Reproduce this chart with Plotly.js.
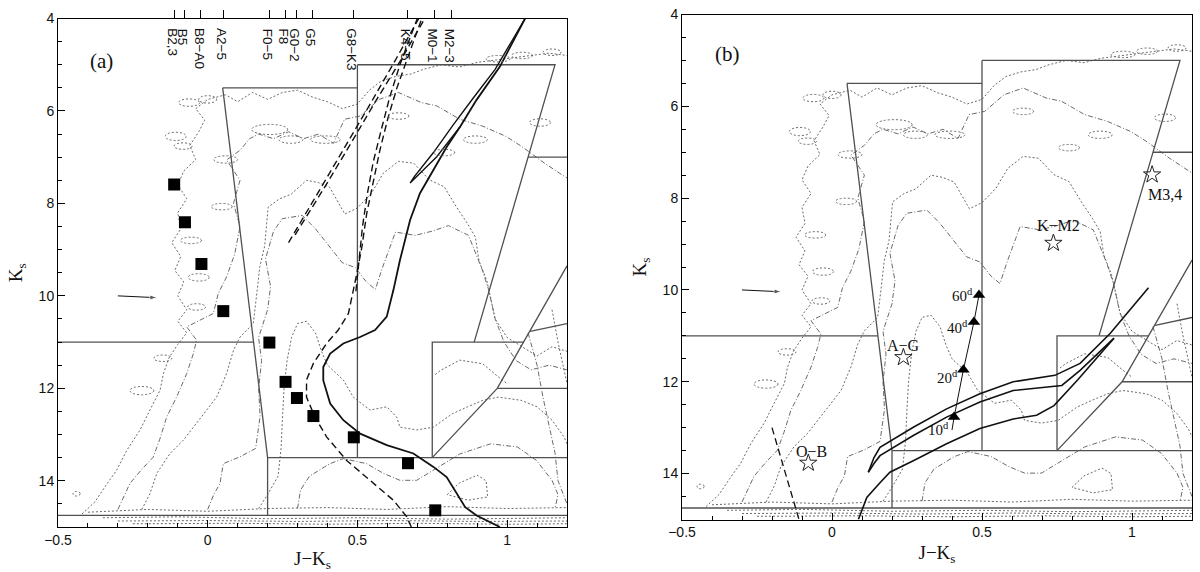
<!DOCTYPE html>
<html><head><meta charset="utf-8">
<script src="https://cdn.plot.ly/plotly-3.0.1.min.js"></script>
<style>html,body{margin:0;padding:0;background:#fff}#chart{width:1200px;height:572px}</style>
</head><body><div id="chart"></div>
<script>
// ---------- data ----------
const spectralTypes = ['B2,3','B5','B8−A0','A2−5','F0−5','F8','G0−2','G5','G8−K3','K4−5','M0−1','M2−3'];
const spectralColor = [-0.112,-0.079,-0.023,0.052,0.205,0.261,0.297,0.349,0.486,0.668,0.759,0.815];

const squareColor = [-0.112,-0.076,-0.021,0.052,0.206,0.26,0.298,0.353,0.488,0.669,0.76];
const squareKs    = [7.59,8.41,9.31,10.33,11.01,11.86,12.21,12.6,13.06,13.62,14.64];

const curveA = [[0.976,15.0],[0.898,14.75],[0.86,14.57],[0.832,14.28],[0.798,13.92],[0.754,13.7],[0.687,13.41],[0.598,13.23],[0.509,12.98],[0.453,12.69],[0.409,12.33],[0.386,11.83],[0.386,11.54],[0.409,11.25],[0.453,11.03],[0.509,10.89],[0.559,10.74],[0.598,10.45],[0.62,9.88],[0.642,9.23],[0.676,8.36],[0.709,7.78],[0.754,7.28],[0.798,6.78],[0.843,6.34],[0.898,5.76],[0.976,5.04],[1.06,4.0]];
const needleA = [[0.843,6.34],[0.765,6.99],[0.676,7.56],[0.69,7.42],[0.754,6.9],[0.82,6.3],[0.887,5.72],[0.96,5.1],[1.06,4.0]];
const dashA1 = [[0.68,15.0],[0.665,14.78],[0.62,14.42],[0.542,13.99],[0.464,13.56],[0.397,13.05],[0.358,12.62],[0.33,12.19],[0.33,11.82],[0.353,11.46],[0.397,11.03],[0.436,10.74],[0.47,10.38],[0.498,9.52],[0.515,8.94],[0.531,8.22],[0.553,7.5],[0.575,6.85],[0.603,6.13],[0.633,5.48],[0.665,4.9],[0.715,4.0]];
const dashA2 = [[0.495,9.9],[0.505,9.2],[0.517,8.5],[0.533,7.8],[0.553,7.1],[0.58,6.4],[0.608,5.7],[0.642,5.0],[0.70,4.0]];
const dashB1 = [[0.27,8.85],[0.381,7.64],[0.46,6.75],[0.54,5.88],[0.625,4.92],[0.705,4.0]];
const dashB2 = [[0.292,8.68],[0.40,7.55],[0.48,6.68],[0.56,5.8],[0.645,4.9],[0.725,4.0]];

const isoUpper  = [[0.121,13.97],[0.14,13.65],[0.16,13.43],[0.193,13.3],[0.271,12.99],[0.382,12.59],[0.493,12.26],[0.604,12.0],[0.743,11.86],[0.827,11.6],[0.927,10.95],[1.055,9.95]];
const isoMiddle = [[0.121,13.97],[0.14,13.78],[0.16,13.61],[0.271,13.17],[0.382,12.77],[0.493,12.44],[0.604,12.19],[0.766,12.08],[0.827,11.75],[0.94,11.05]];
const isoLower  = [[0.088,15.0],[0.116,14.52],[0.16,14.2],[0.193,13.97],[0.271,13.72],[0.382,13.35],[0.493,13.02],[0.604,12.81],[0.682,12.73],[0.74,12.52],[0.82,11.95],[0.94,11.05]];
const dashPanelB = [[-0.2,13.0],[-0.11,15.0]];

const ageColor = [0.407,0.438,0.473,0.49];
const ageKs    = [12.77,11.74,10.7,10.11];
const ageLabelKs = [13.02,11.9,10.81,10.11];
const ageLabels = ['10<sup>d</sup>','20<sup>d</sup>','40<sup>d</sup>','60<sup>d</sup>'];
const ageTrack = [[0.40,13.05],[0.407,12.77],[0.438,11.74],[0.473,10.7],[0.49,10.11]];

const starNames = ['O−B','A−G','K−M2','M3,4'];
const starColor = [-0.079,0.238,0.738,1.067];
const starKs    = [13.77,11.47,8.98,7.49];
const starLabelColor = [-0.068,0.238,0.754,1.11];
const starLabelKs    = [13.51,11.2,8.59,7.93];

// reddening arrow (tail, head)
const reddeningArrow = [[-0.30,10.0],[-0.168,10.04]];

// region boundaries (both panels)
const boxLines = [
  [[0.05,5.5],[0.5,5.5]],
  [[0.05,5.5],[0.2,13.5],[0.2,14.75]],
  [[-0.5,11.0],[0.153,11.0]],
  [[0.5,5.0],[0.5,13.5]],
  [[0.5,5.0],[1.16,5.0],[0.89,11.0]],
  [[1.07,7.0],[1.2,7.0]],
  [[0.2,13.5],[1.2,13.5]],
  [[0.75,13.5],[0.75,11.0],[1.055,11.0]],
  [[0.75,13.5],[0.967,12.0],[1.2,9.35]],
  [[0.967,12.0],[1.2,12.0]],
  [[1.077,10.77],[1.2,10.6]],
  [[-0.5,14.75],[1.2,14.75]]
];

// density contours (both panels)
const cLev1 = [[-0.42,14.72],[-0.377,14.46],[-0.34,14.1],[-0.304,13.77],[-0.27,13.34],[-0.226,12.9],[-0.193,12.47],[-0.159,12.04],[-0.148,11.68],[-0.13,11.35],[-0.1,11.05],[-0.07,10.8],[-0.1,10.55],[-0.07,10.3],[-0.1,10.0],[-0.08,9.7],[-0.11,9.45],[-0.09,9.15],[-0.12,8.85],[-0.09,8.55],[-0.1,8.2],[-0.07,7.9],[-0.1,7.6],[-0.08,7.3],[-0.04,7.05],[-0.06,6.75],[-0.03,6.45],[-0.01,6.2],[-0.04,5.95],[0.0,5.75],[0.06,5.65],[0.1,5.8],[0.15,5.6],[0.2,5.75],[0.25,5.6],[0.3,5.55],[0.35,5.7],[0.4,5.8],[0.45,5.95],[0.5,5.85],[0.54,5.55],[0.58,5.35],[0.63,5.25],[0.68,5.2],[0.72,5.1],[0.78,5.0],[0.84,5.05],[0.9,4.95],[0.96,4.9],[1.02,4.85],[1.08,4.8],[1.14,4.75],[1.2,4.8]];
const cLev2 = [[-0.30,14.62],[-0.26,14.06],[-0.22,13.75],[-0.182,13.49],[-0.16,13.1],[-0.137,12.62],[-0.104,12.19],[-0.07,11.68],[-0.048,11.25],[-0.037,10.96],[-0.07,10.67],[0.019,10.38],[0.035,9.95],[0.063,9.59],[0.09,9.1],[0.108,8.5],[0.086,8.0],[0.108,7.5],[0.063,7.06],[0.108,6.85],[0.14,6.6],[0.17,6.5],[0.22,6.6],[0.27,6.45],[0.32,6.6],[0.37,6.5],[0.42,6.7],[0.457,6.18],[0.509,6.11],[0.573,5.75],[0.637,5.6],[0.714,5.82],[0.765,5.89],[0.842,6.18],[0.919,6.33],[0.996,6.55],[1.047,6.76],[1.125,7.13],[1.176,7.35],[1.2,7.45]];
const cLev3 = [[-0.22,14.62],[-0.193,14.28],[-0.17,13.84],[-0.126,13.41],[-0.081,13.12],[-0.048,12.84],[-0.003,12.47],[0.03,12.19],[0.063,11.68],[0.086,11.18],[0.108,10.89],[0.152,10.6],[0.164,9.95],[0.174,9.37],[0.19,8.93],[0.202,8.08],[0.24,7.9],[0.279,7.8],[0.33,7.5],[0.37,7.55],[0.407,7.65],[0.458,8.23],[0.5,8.1],[0.547,7.78],[0.586,7.35],[0.637,7.09],[0.688,7.13],[0.74,7.49],[0.79,7.64],[0.83,8.07],[0.868,8.44],[0.894,8.73],[0.906,9.24],[0.932,9.67],[0.945,10.04],[0.96,10.5],[1.0,10.9],[1.05,11.1],[1.1,11.3],[1.15,11.1],[1.2,11.2]];
const cLev4 = [[0.0,14.62],[0.02,14.3],[0.041,14.06],[0.052,13.63],[0.108,13.48],[0.16,13.3],[0.175,12.6],[0.17,12.0],[0.18,11.4],[0.17,10.9],[0.2,10.3],[0.21,9.8],[0.193,9.2],[0.22,8.6],[0.249,8.33],[0.316,8.26],[0.36,8.55],[0.404,8.91],[0.449,9.28],[0.493,9.39],[0.53,9.7],[0.56,9.86],[0.582,9.42],[0.627,8.62],[0.693,8.69],[0.75,8.6],[0.804,8.48],[0.871,8.69],[0.916,9.42],[0.938,9.86],[0.96,10.5],[0.99,11.0],[1.03,11.4],[1.08,11.6],[1.14,11.5],[1.2,11.6]];
const cLev5 = [[0.17,14.6],[0.2,14.3],[0.235,13.9],[0.245,13.3],[0.25,12.6],[0.255,12.0],[0.265,11.4],[0.28,10.9],[0.30,10.6],[0.33,10.55],[0.36,10.8],[0.38,11.2],[0.4,11.5],[0.453,11.82],[0.486,12.19],[0.542,12.47],[0.598,12.4],[0.631,12.62],[0.642,12.84],[0.698,12.9],[0.754,12.84],[0.817,12.55],[0.868,12.4],[0.919,12.26],[0.97,12.19],[1.047,12.26],[1.1,12.4],[1.15,12.69],[1.19,13.05],[1.2,13.2]];
const cLev6 = [[0.30,14.6],[0.31,14.2],[0.34,13.9],[0.408,13.63],[0.453,13.52],[0.531,13.63],[0.587,13.84],[0.642,13.99],[0.698,13.99],[0.754,13.77],[0.842,13.42],[0.945,13.2],[1.035,13.27],[1.098,13.56],[1.15,13.99],[1.17,14.3],[1.16,14.6]];
const cLoop = [[0.8,14.3],[0.84,14.05],[0.9,13.88],[0.93,14.0],[0.935,14.35],[0.87,14.42],[0.8,14.3]];
const cBox = [[0.76,11.7],[0.778,11.61],[0.842,11.39],[0.919,11.47],[0.97,11.75],[1.0,11.9]];
const cRight1 = [[1.07,10.8],[1.1,11.5],[1.12,12.2],[1.14,12.8],[1.16,13.4],[1.17,14.0],[1.2,14.5]];
const cRight2 = [[1.15,10.3],[1.17,11.0],[1.19,11.6],[1.2,11.9]];
const cBottom1 = [[-0.40,14.68],[-0.2,14.62],[0.0,14.66],[0.2,14.6],[0.4,14.58],[0.6,14.62],[0.8,14.56],[1.0,14.6],[1.2,14.58]];
const cBottom2 = [[-0.35,14.8],[-0.1,14.78],[0.2,14.82],[0.5,14.8],[0.8,14.83],[1.2,14.8]];
const cBottom3 = [[-0.3,14.87],[0.0,14.86],[0.3,14.88],[0.6,14.86],[0.9,14.88],[1.2,14.87]];
const cBottom4 = [[-0.25,14.93],[0.1,14.92],[0.4,14.94],[0.7,14.92],[1.0,14.94],[1.2,14.93]];

// small closed contours: [centre colour, centre Ks, half-width, half-height]
const islands = [[-0.062,5.82,0.035,0.08],[0.0,5.75,0.03,0.08],[-0.107,6.55,0.035,0.09],[0.207,6.4,0.06,0.11],[0.278,6.62,0.04,0.08],[0.393,6.62,0.05,0.08],[0.637,6.11,0.035,0.07],[0.79,6.9,0.035,0.07],[0.894,6.62,0.04,0.08],[0.97,4.87,0.04,0.07],[1.05,4.8,0.035,0.07],[1.11,6.25,0.035,0.08],[1.15,4.73,0.03,0.07],[-0.082,6.76,0.03,0.07],[0.06,7.05,0.04,0.08],[0.047,8.07,0.035,0.07],[-0.056,8.8,0.035,0.07],[-0.03,9.6,0.035,0.08],[-0.037,10.24,0.03,0.07],[-0.22,12.05,0.04,0.09],[-0.15,11.35,0.03,0.07],[-0.438,14.28,0.012,0.05]];

// ---------- drawing ----------
const traces = [];
const shapes = [];
const axes = [['x','y'],['x2','y2']];
function line(pts, p, style){
  traces.push({type:'scatter',mode:'lines',x:pts.map(d=>d[0]),y:pts.map(d=>d[1]),
    xaxis:axes[p][0],yaxis:axes[p][1],line:style,hoverinfo:'skip',showlegend:false});
}
const cGrey = '#6a6a6a';
const dotStyle = {color:cGrey,width:1,dash:'2px,2px'};
const dashDotStyle = {color:cGrey,width:1,dash:'5px,2px,1px,2px'};
const boxStyle = {color:'#505050',width:1.3};
const contourSet = [[cLev1,dotStyle],[cLev2,dashDotStyle],[cLev3,dotStyle],[cLev4,dashDotStyle],[cLev5,dotStyle],[cLev6,dashDotStyle],[cLoop,dotStyle],[cBox,dotStyle],[cRight1,dashDotStyle],[cRight2,dotStyle],[cBottom1,dotStyle],[cBottom2,dotStyle],[cBottom3,dotStyle],[cBottom4,dotStyle]];

for (let p=0;p<2;p++){
  contourSet.forEach(c=>line(c[0],p,c[1]));
  islands.forEach(e=>shapes.push({type:'circle',xref:axes[p][0],yref:axes[p][1],
    x0:e[0]-e[2],x1:e[0]+e[2],y0:e[1]-e[3],y1:e[1]+e[3],line:{color:cGrey,width:1,dash:'2px,2px'}}));
  boxLines.forEach(b=>line(b,p,boxStyle));
  traces.push({type:'scatter',mode:'lines+markers',x:reddeningArrow.map(d=>d[0]),y:reddeningArrow.map(d=>d[1]),
    xaxis:axes[p][0],yaxis:axes[p][1],line:{color:'#111',width:1},
    marker:{symbol:['circle','arrow'],size:[0,8],angleref:'previous',color:'#111'},hoverinfo:'skip',showlegend:false});
}
// panel a
line(curveA,0,{color:'#111',width:1.8});
line(needleA,0,{color:'#111',width:1.4});
[dashA1,dashA2,dashB1,dashB2].forEach(d=>line(d,0,{color:'#111',width:1.4,dash:'7px,4px'}));
traces.push({type:'scatter',mode:'markers',x:squareColor,y:squareKs,xaxis:'x',yaxis:'y',
  marker:{symbol:'square',size:12,color:'#000'},hoverinfo:'skip',showlegend:false});
// panel b
[isoUpper,isoMiddle,isoLower].forEach(d=>line(d,1,{color:'#111',width:1.6}));
line(dashPanelB,1,{color:'#111',width:1.3,dash:'7px,4px'});
line(ageTrack,1,{color:'#111',width:1});
traces.push({type:'scatter',mode:'markers',x:ageColor,y:ageKs,xaxis:'x2',yaxis:'y2',
  marker:{symbol:'triangle-up',size:11,color:'#000'},hoverinfo:'skip',showlegend:false});
traces.push({type:'scatter',mode:'markers',x:starColor,y:starKs,xaxis:'x2',yaxis:'y2',
  marker:{symbol:'star-open',size:13,color:'#222',line:{width:1,color:'#222'}},hoverinfo:'skip',showlegend:false});

const serif = 'Liberation Serif, DejaVu Serif, serif';
const sans = 'Liberation Sans, Arial, sans-serif';
const annotations = [];
annotations.push({text:'(a)',x:-0.355,y:4.91,xref:'x',yref:'y',showarrow:false,font:{family:serif,size:21,color:'#111'}});
annotations.push({text:'(b)',x:-0.35,y:4.87,xref:'x2',yref:'y2',showarrow:false,font:{family:serif,size:21,color:'#111'}});
spectralTypes.forEach((s,i)=>annotations.push({text:s,x:spectralColor[i],y:4.17,xref:'x',yref:'y',
  textangle:90,xanchor:'center',yanchor:'top',xshift:-2,showarrow:false,font:{family:sans,size:13.5,color:'#111'}}));
ageLabels.forEach((s,i)=>annotations.push({text:s,x:ageColor[i]-0.012,y:ageLabelKs[i],xref:'x2',yref:'y2',
  xanchor:'right',showarrow:false,font:{family:serif,size:15,color:'#111'}}));
starNames.forEach((s,i)=>annotations.push({text:s,x:starLabelColor[i],y:starLabelKs[i],xref:'x2',yref:'y2',
  showarrow:false,font:{family:serif,size:16,color:'#111'}}));

function xAxis(domain){
  return {domain:domain,range:[-0.5,1.2],showgrid:false,zeroline:false,showline:true,mirror:true,linecolor:'#000',linewidth:1,
    ticks:'inside',ticklen:7,tickcolor:'#000',tick0:0,dtick:0.5,
    minor:{dtick:0.1,ticks:'inside',ticklen:4,tickcolor:'#000',showgrid:false},
    tickfont:{family:sans,size:14,color:'#111'},
    title:{text:'J−K<sub>s</sub>',font:{family:serif,size:19,color:'#111'},standoff:6}};
}
function yAxis(domain,anchor){
  return {domain:domain,range:[15,4],anchor:anchor,showgrid:false,zeroline:false,showline:true,mirror:true,linecolor:'#000',linewidth:1,
    ticks:'inside',ticklen:7,tickcolor:'#000',tick0:0,dtick:2,
    minor:{dtick:0.5,ticks:'inside',ticklen:4,tickcolor:'#000',showgrid:false},
    tickfont:{family:sans,size:14,color:'#111'},
    title:{text:'K<sub>s</sub>',font:{family:serif,size:19,color:'#111'},standoff:10}};
}
const layout = {
  width:1200,height:572,margin:{l:0,r:0,t:0,b:0},paper_bgcolor:'#fff',plot_bgcolor:'#fff',showlegend:false,
  xaxis:Object.assign(xAxis([58/1200,567/1200]),{anchor:'y'}),
  yaxis:yAxis([1-527/572,1-18.5/572],'x'),
  xaxis2:Object.assign(xAxis([682/1200,1192/1200]),{anchor:'y2'}),
  yaxis2:yAxis([1-519.5/572,1-14.5/572],'x2'),
  xaxis3:{overlaying:'x',anchor:'y',side:'top',range:[-0.5,1.2],tickmode:'array',tickvals:spectralColor,
    ticks:'outside',ticklen:8,tickcolor:'#000',showticklabels:false,showgrid:false,zeroline:false,showline:false},
  shapes:shapes,annotations:annotations
};
traces.push({type:'scatter',mode:'markers',x:[],y:[],xaxis:'x3',yaxis:'y',showlegend:false});
Plotly.newPlot('chart',traces,layout,{staticPlot:true});
</script></body></html>
